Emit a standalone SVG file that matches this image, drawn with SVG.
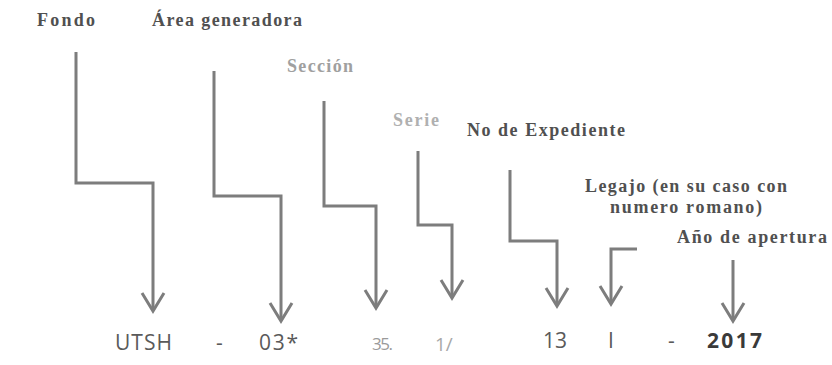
<svg xmlns="http://www.w3.org/2000/svg" width="832" height="365" viewBox="0 0 832 365">
<style>
.lbl{font-family:"Liberation Serif","Times New Roman",serif;font-weight:bold;font-size:18px;fill:#505050}
.lt{fill:#a0a0a0}
.lt2{fill:#b0b0b0}
.code{font-family:"Open Sans","Liberation Sans",sans-serif;font-size:21px;fill:#5a5a5a}
.small{font-size:17px;fill:#9a9a9a}
.bold{font-weight:bold;fill:#3a3a3a}
.conn{fill:none;stroke:#7d7d7d;stroke-width:3;stroke-linejoin:miter}
</style>
<defs>
<marker id="arr" viewBox="-20 -13 22 26" markerUnits="userSpaceOnUse" markerWidth="22" markerHeight="26" refX="0" refY="0" orient="auto" overflow="visible">
<polyline points="-18,-11 0,0 -18,11" fill="none" stroke="#7d7d7d" stroke-width="3" stroke-linejoin="miter"/>
</marker>
</defs>
<rect width="832" height="365" fill="#ffffff"/>
<g id="fondo"><text class="lbl" x="37" y="26" textLength="58" lengthAdjust="spacing">Fondo</text></g>
<g id="area"><text class="lbl" x="152" y="26" textLength="150" lengthAdjust="spacing">Área generadora</text></g>
<g id="seccion"><text class="lbl lt" x="287" y="72" textLength="66" lengthAdjust="spacing">Sección</text></g>
<g id="serie"><text class="lbl lt2" x="393" y="126" textLength="46" lengthAdjust="spacing">Serie</text></g>
<g id="expediente"><text class="lbl" x="467" y="136" textLength="158" lengthAdjust="spacing">No de Expediente</text></g>
<g id="legajo"><text class="lbl" x="585" y="192" textLength="202" lengthAdjust="spacing">Legajo (en su caso con</text><text class="lbl" x="610" y="213" textLength="152" lengthAdjust="spacing">numero romano)</text></g>
<g id="anio"><text class="lbl" x="677" y="243" textLength="150" lengthAdjust="spacing">Año de apertura</text></g>
<g id="codigo">
<text class="code" x="115" y="350" textLength="57" lengthAdjust="spacing">UTSH</text>
<text class="code" x="216" y="350">-</text>
<text class="code" x="259" y="350" textLength="39" lengthAdjust="spacing">03*</text>
<text class="code small" x="372" y="350" textLength="21" lengthAdjust="spacing">35.</text>
<text class="code small" x="435" y="351" style="font-size:19px;fill:#a8a8a8">1/</text>
<text class="code" x="543" y="348" textLength="24" lengthAdjust="spacing">13</text>
<text class="code" x="608" y="348">I</text>
<text class="code" x="668" y="348">-</text>
<text class="code bold" x="707" y="348" textLength="55" lengthAdjust="spacing">2017</text>
</g>
<g id="connectors">
<path class="conn" d="M76,52 V183 H153 V311" marker-end="url(#arr)"/>
<path class="conn" d="M214,71 V196 H281 V321" marker-end="url(#arr)"/>
<path class="conn" d="M324,101 V206 H376 V308" marker-end="url(#arr)"/>
<path class="conn" d="M418,151 V225 H452 V298" marker-end="url(#arr)"/>
<path class="conn" d="M510,170 V241 H557 V306" marker-end="url(#arr)"/>
<path class="conn" d="M637,249 H611 V304" marker-end="url(#arr)"/>
<path class="conn" d="M733,260 V321" marker-end="url(#arr)"/>
</g>
</svg>
